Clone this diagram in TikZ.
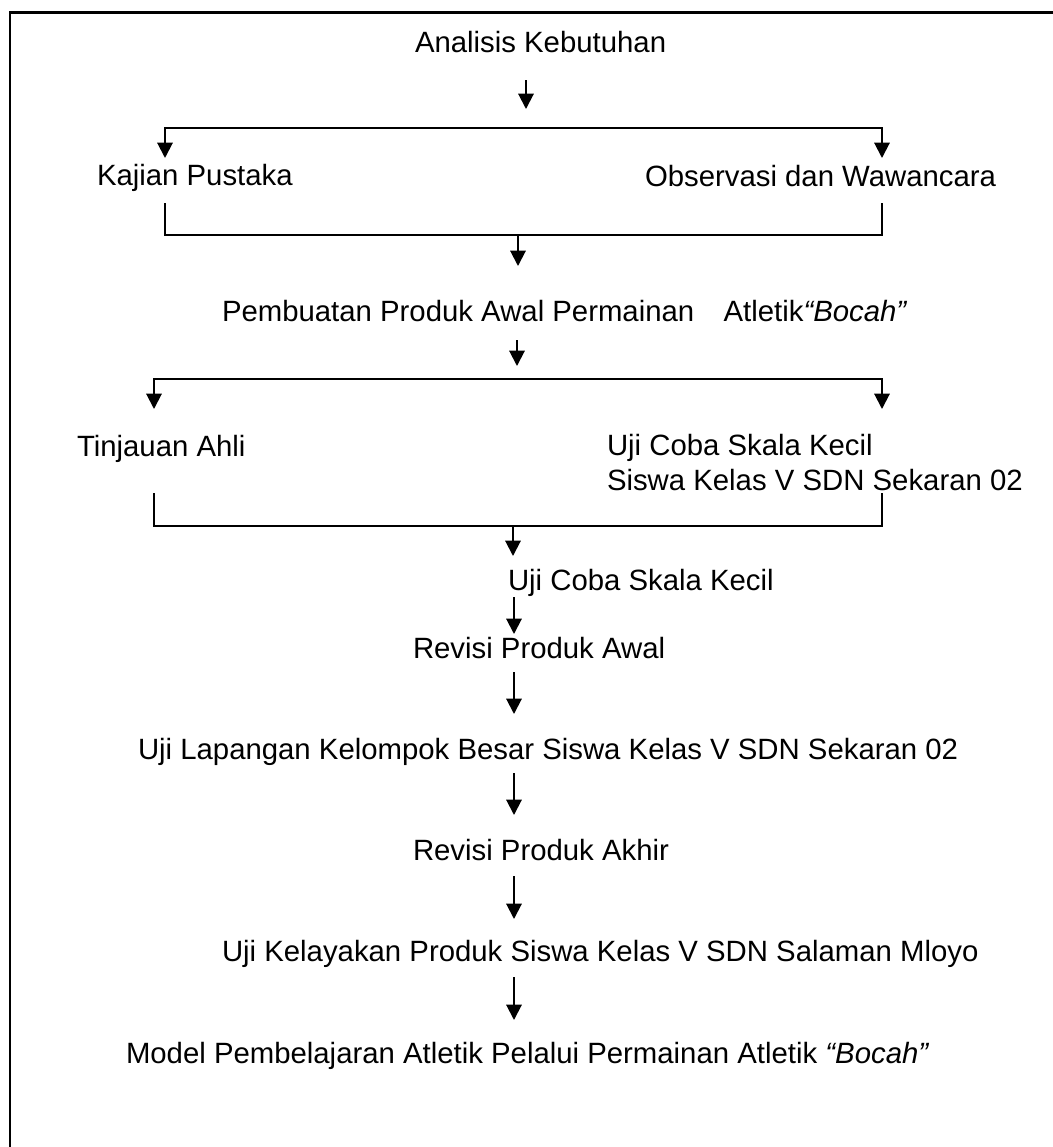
\documentclass[tikz,border=0pt]{standalone}
\usepackage{fontspec}
\setmainfont{Liberation Sans}
\usetikzlibrary{arrows.meta}
\tikzset{
  lbl/.style={anchor=base west, inner sep=0pt, outer sep=0pt, font=\fontsize{22}{26.5}\selectfont},
  conn/.style={line width=1.5pt},
  arr/.style={conn, -{Triangle[width=11.5pt,length=11.5pt]}},
  darr/.style={conn, {Triangle[width=11.5pt,length=11.5pt]}-{Triangle[width=11.5pt,length=11.5pt]}},
  frame/.style={line width=1.9pt}
}
\begin{document}
\begin{tikzpicture}[x=0.75pt,y=-0.75pt]
\useasboundingbox (0,0) rectangle (1053,1147);
\fill[white] (0,0) rectangle (1053,1147);
% frame (left and top edges)
\coordinate (fb) at (10,1147);
\coordinate (fc) at (10,12.7);
\coordinate (fr) at (1053,12.7);
\draw[frame] (fb) -- (fc) -- (fr);

% texts
\node[lbl] (analisis) at (415,52) {Analisis Kebutuhan};
\node[lbl] (kajian) at (97,185) {Kajian Pustaka};
\node[lbl] (observasi) at (645,186) {Observasi dan Wawancara};
\node[lbl] (pembuatan) at (222,321) {Pembuatan Produk Awal Permainan\hspace{22pt}Atletik\textit{“Bocah”}};
\node[lbl] (tinjauan) at (77,456) {Tinjauan Ahli};
\node[lbl] (ujikecil) at (607,455) {Uji Coba Skala Kecil};
\node[lbl] (siswa) at (607,490) {Siswa Kelas V SDN Sekaran 02};
\node[lbl] (ujicoba) at (508,590) {Uji Coba Skala Kecil};
\node[lbl] (revawal) at (413,658) {Revisi Produk Awal};
\node[lbl] (lapangan) at (138,759) {Uji Lapangan Kelompok Besar Siswa Kelas V SDN Sekaran 02};
\node[lbl] (revakhir) at (413,860) {Revisi Produk Akhir};
\node[lbl] (kelayakan) at (222,961) {Uji Kelayakan Produk Siswa Kelas V SDN Salaman Mloyo};
\node[lbl] (model) at (126,1063) {Model Pembelajaran Atletik Pelalui Permainan Atletik \textit{“Bocah”}};

% connector points
\coordinate (a1s) at (526,80);   \coordinate (a1e) at (526,109);
\coordinate (b1l) at (165,128);  \coordinate (b1r) at (882,128);
\coordinate (b1lt) at (165,158); \coordinate (b1rt) at (882,158);
\coordinate (c1l) at (165,203);  \coordinate (c1r) at (882,203);
\coordinate (c1lb) at (165,235); \coordinate (c1rb) at (882,235);
\coordinate (a2s) at (518,235);  \coordinate (a2e) at (518,266);
\coordinate (a3s) at (517,340);  \coordinate (a3e) at (517,366);
\coordinate (b2l) at (154,379);  \coordinate (b2r) at (882,379);
\coordinate (b2lt) at (154,409); \coordinate (b2rt) at (882,409);
\coordinate (c2l) at (154,493);  \coordinate (c2r) at (882,493);
\coordinate (c2lb) at (154,526); \coordinate (c2rb) at (882,526);
\coordinate (a4s) at (513,526);  \coordinate (a4e) at (513,556);
\coordinate (a5s) at (514,597);  \coordinate (a5e) at (514,634);
\coordinate (a6s) at (514,672);  \coordinate (a6e) at (514,714);
\coordinate (a7s) at (514,773);  \coordinate (a7e) at (514,815);
\coordinate (a8s) at (514,876);  \coordinate (a8e) at (514,919);
\coordinate (a9s) at (514,977);  \coordinate (a9e) at (514,1020);

% connectors
\draw[arr] (a1s) -- (a1e);
\draw[darr] (b1lt) -- (b1l) -- (b1r) -- (b1rt);
\draw[conn] (c1l) -- (c1lb) -- (c1rb) -- (c1r);
\draw[arr] (a2s) -- (a2e);
\draw[arr] (a3s) -- (a3e);
\draw[darr] (b2lt) -- (b2l) -- (b2r) -- (b2rt);
\draw[conn] (c2l) -- (c2lb) -- (c2rb) -- (c2r);
\draw[arr] (a4s) -- (a4e);
\draw[arr] (a5s) -- (a5e);
\draw[arr] (a6s) -- (a6e);
\draw[arr] (a7s) -- (a7e);
\draw[arr] (a8s) -- (a8e);
\draw[arr] (a9s) -- (a9e);
\end{tikzpicture}
\end{document}
